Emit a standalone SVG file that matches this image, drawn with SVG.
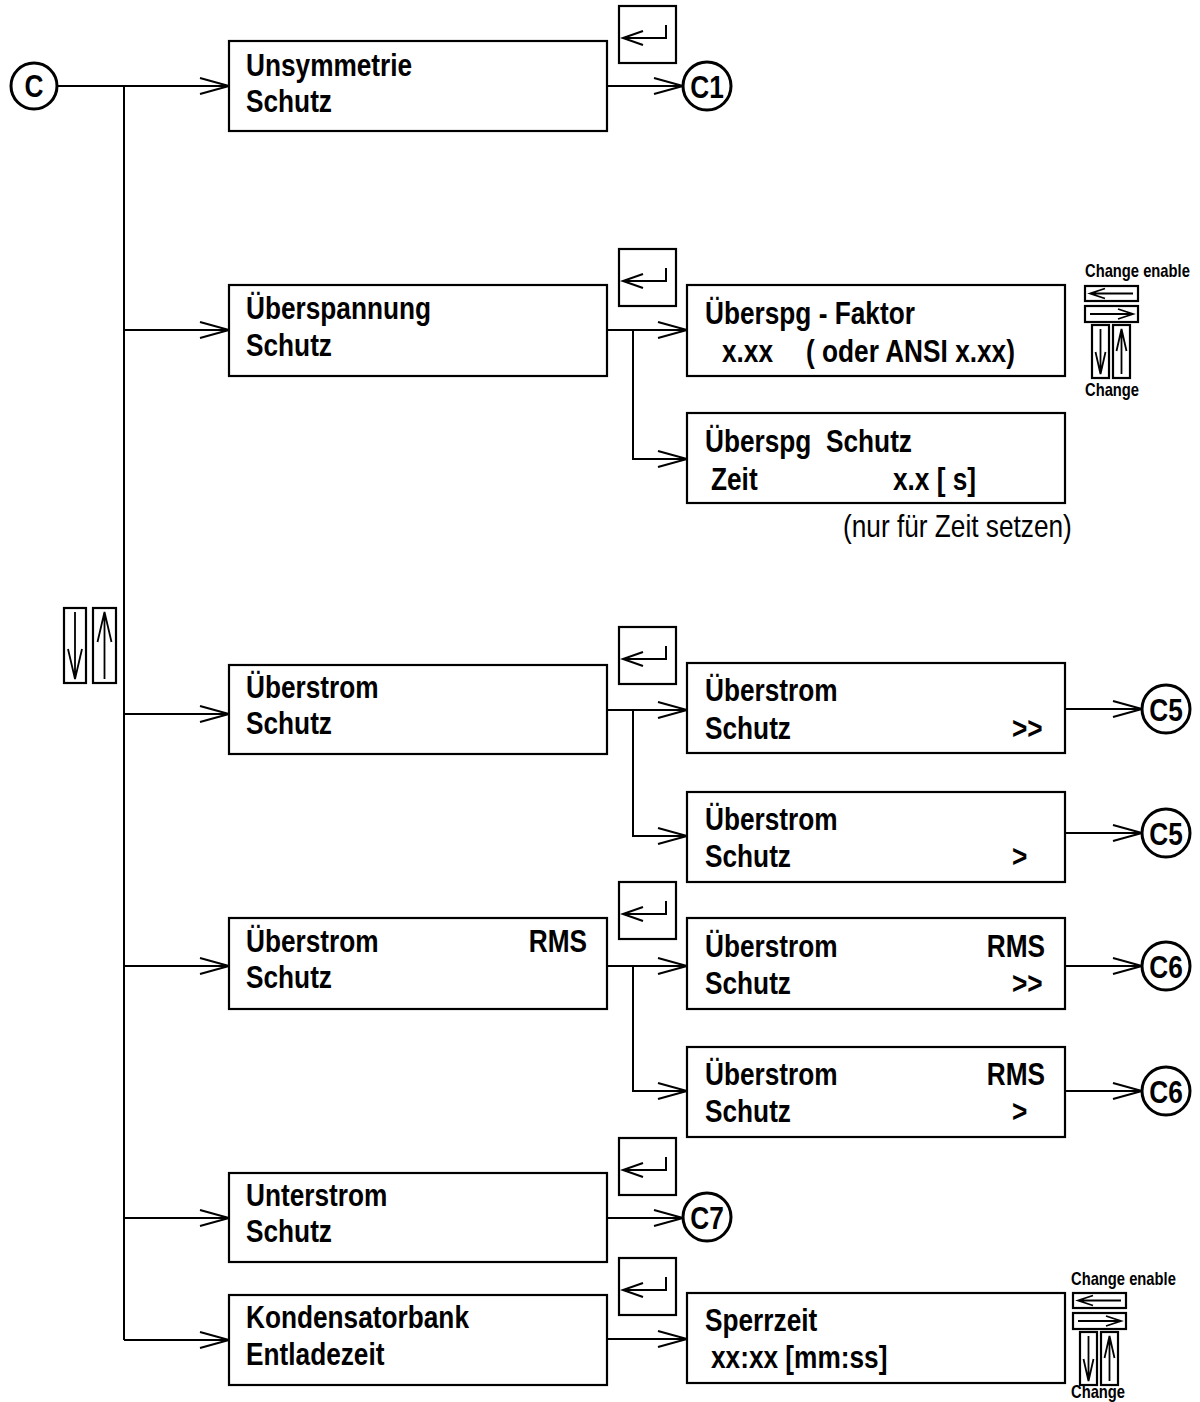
<svg xmlns="http://www.w3.org/2000/svg" xmlns:xlink="http://www.w3.org/1999/xlink" width="1200" height="1402" viewBox="0 0 1200 1402">
<style>
.box{fill:#fff;stroke:#000;stroke-width:2.2}
.ln{fill:none;stroke:#000;stroke-width:2}
.thin{fill:none;stroke:#000;stroke-width:1.8}
.circ{fill:#fff;stroke:#000;stroke-width:3}
.t{font-family:"Liberation Sans",Arial,sans-serif;font-weight:bold;font-size:32px;fill:#000}
.r{font-family:"Liberation Sans",Arial,sans-serif;font-weight:normal;font-size:32px;fill:#000}
.s{font-family:"Liberation Sans",Arial,sans-serif;font-weight:bold;font-size:18px;fill:#000}
.e{text-anchor:end}
.m{text-anchor:middle}
</style>
<defs>
<marker id="ah" markerUnits="userSpaceOnUse" markerWidth="32" markerHeight="18" refX="29" refY="8" orient="auto" overflow="visible">
<path d="M0,0 L29,8 L0,16" fill="none" stroke="#000" stroke-width="2"/>
</marker>
<g id="enter">
<rect x="0" y="0" width="57" height="57" class="box"/>
<path d="M47,19 V32 H4" class="ln"/>
<path d="M24,25 L4,32 L24,39" class="ln"/>
</g>
<g id="chg">
<rect x="0" y="0" width="53" height="15" class="box"/>
<path d="M5,7.5 H48 M20,2.5 L5,7.5 L20,12.5" class="thin"/>
<rect x="0" y="20" width="53" height="16" class="box"/>
<path d="M5,28 H48 M33,23 L48,28 L33,33" class="thin"/>
<rect x="7" y="39" width="17" height="53" class="box"/>
<path d="M15.5,43 V88 M10.5,66 L15.5,88 L20.5,66" class="thin"/>
<rect x="28" y="39" width="17" height="53" class="box"/>
<path d="M36.5,88 V43 M31.5,65 L36.5,43 L41.5,65" class="thin"/>
</g>
</defs>
<rect width="1200" height="1402" fill="#fff"/>

<g id="connectors">
<path d="M57,86 H229" class="ln" marker-end="url(#ah)"/>
<path d="M124,86 V1340" class="ln"/>
<path d="M124,330 H229" class="ln" marker-end="url(#ah)"/>
<path d="M124,714 H229" class="ln" marker-end="url(#ah)"/>
<path d="M124,966 H229" class="ln" marker-end="url(#ah)"/>
<path d="M124,1218 H229" class="ln" marker-end="url(#ah)"/>
<path d="M124,1340 H229" class="ln" marker-end="url(#ah)"/>
<path d="M607,86 H683" class="ln" marker-end="url(#ah)"/>
<path d="M607,330 H687" class="ln" marker-end="url(#ah)"/>
<path d="M633,330 V459 H687" class="ln" marker-end="url(#ah)"/>
<path d="M607,710 H687" class="ln" marker-end="url(#ah)"/>
<path d="M633,710 V836 H687" class="ln" marker-end="url(#ah)"/>
<path d="M607,966 H687" class="ln" marker-end="url(#ah)"/>
<path d="M633,966 V1091 H687" class="ln" marker-end="url(#ah)"/>
<path d="M607,1218 H683" class="ln" marker-end="url(#ah)"/>
<path d="M607,1339 H687" class="ln" marker-end="url(#ah)"/>
<path d="M1065,709 H1142" class="ln" marker-end="url(#ah)"/>
<path d="M1065,833 H1142" class="ln" marker-end="url(#ah)"/>
<path d="M1065,966 H1142" class="ln" marker-end="url(#ah)"/>
<path d="M1065,1091 H1142" class="ln" marker-end="url(#ah)"/>
</g>

<g id="node-C">
<circle cx="34" cy="86" r="23" class="circ"/>
<text class="t m" font-size="30" transform="translate(34 97) scale(0.82 1)">C</text>
</g>

<g id="node-unsymmetrie">
<rect x="229" y="41" width="378" height="90" class="box"/>
<text class="t" transform="translate(246 76) scale(0.82 1)">Unsymmetrie</text>
<text class="t" transform="translate(246 112) scale(0.82 1)">Schutz</text>
</g>
<g id="enter-1"><use xlink:href="#enter" x="619" y="6"/></g>
<g id="node-C1">
<circle cx="707" cy="86" r="24" class="circ"/>
<text class="t m" transform="translate(707 97.5) scale(0.82 1)">C1</text>
</g>

<g id="node-ueberspannung">
<rect x="229" y="285" width="378" height="91" class="box"/>
<text class="t" transform="translate(246 319) scale(0.82 1)">Überspannung</text>
<text class="t" transform="translate(246 356) scale(0.82 1)">Schutz</text>
</g>
<g id="enter-2"><use xlink:href="#enter" x="619" y="249"/></g>
<g id="node-faktor">
<rect x="687" y="285" width="378" height="91" class="box"/>
<text class="t" transform="translate(705 324) scale(0.82 1)">Überspg - Faktor</text>
<text class="t" transform="translate(722 362) scale(0.82 1)">x.xx</text>
<text class="t" transform="translate(806 362) scale(0.82 1)">( oder ANSI x.xx)</text>
</g>
<g id="change-icon-1">
<text class="s" transform="translate(1085 277) scale(0.82 1)">Change enable</text>
<use xlink:href="#chg" x="1085" y="286"/>
<text class="s" transform="translate(1085 396) scale(0.82 1)">Change</text>
</g>
<g id="node-zeit">
<rect x="687" y="413" width="378" height="90" class="box"/>
<text class="t" transform="translate(705 452) scale(0.82 1)">Überspg</text>
<text class="t" transform="translate(826 452) scale(0.82 1)">Schutz</text>
<text class="t" transform="translate(711 490) scale(0.82 1)">Zeit</text>
<text class="t" transform="translate(893 490) scale(0.82 1)">x.x [ s]</text>
</g>
<text class="r" transform="translate(843 537) scale(0.82 1)">(nur für Zeit setzen)</text>

<g id="updown-icon">
<rect x="64" y="608" width="22" height="75" class="box"/>
<path d="M75,612 V679 M68,649 L75,679 L82,649" class="thin"/>
<rect x="93" y="608" width="23" height="75" class="box"/>
<path d="M104.5,679 V612 M97.5,642 L104.5,612 L111.5,642" class="thin"/>
</g>

<g id="node-ueberstrom">
<rect x="229" y="665" width="378" height="89" class="box"/>
<text class="t" transform="translate(246 698) scale(0.82 1)">Überstrom</text>
<text class="t" transform="translate(246 734) scale(0.82 1)">Schutz</text>
</g>
<g id="enter-3"><use xlink:href="#enter" x="619" y="627"/></g>
<g id="node-ueberstrom-gg">
<rect x="687" y="663" width="378" height="90" class="box"/>
<text class="t" transform="translate(705 701) scale(0.82 1)">Überstrom</text>
<text class="t" transform="translate(705 739) scale(0.82 1)">Schutz</text>
<text class="t" transform="translate(1012 739) scale(0.82 1)">&gt;&gt;</text>
</g>
<g id="node-C5a">
<circle cx="1166" cy="709" r="24" class="circ"/>
<text class="t m" transform="translate(1166 720.5) scale(0.82 1)">C5</text>
</g>
<g id="node-ueberstrom-g">
<rect x="687" y="792" width="378" height="90" class="box"/>
<text class="t" transform="translate(705 830) scale(0.82 1)">Überstrom</text>
<text class="t" transform="translate(705 867) scale(0.82 1)">Schutz</text>
<text class="t" transform="translate(1012 867) scale(0.82 1)">&gt;</text>
</g>
<g id="node-C5b">
<circle cx="1166" cy="833" r="24" class="circ"/>
<text class="t m" transform="translate(1166 844.5) scale(0.82 1)">C5</text>
</g>

<g id="node-rms">
<rect x="229" y="918" width="378" height="91" class="box"/>
<text class="t" transform="translate(246 952) scale(0.82 1)">Überstrom</text>
<text class="t e" transform="translate(587 952) scale(0.82 1)">RMS</text>
<text class="t" transform="translate(246 988) scale(0.82 1)">Schutz</text>
</g>
<g id="enter-4"><use xlink:href="#enter" x="619" y="882"/></g>
<g id="node-rms-gg">
<rect x="687" y="918" width="378" height="91" class="box"/>
<text class="t" transform="translate(705 957) scale(0.82 1)">Überstrom</text>
<text class="t e" transform="translate(1045 957) scale(0.82 1)">RMS</text>
<text class="t" transform="translate(705 994) scale(0.82 1)">Schutz</text>
<text class="t" transform="translate(1012 994) scale(0.82 1)">&gt;&gt;</text>
</g>
<g id="node-C6a">
<circle cx="1166" cy="966" r="24" class="circ"/>
<text class="t m" transform="translate(1166 977.5) scale(0.82 1)">C6</text>
</g>
<g id="node-rms-g">
<rect x="687" y="1047" width="378" height="90" class="box"/>
<text class="t" transform="translate(705 1085) scale(0.82 1)">Überstrom</text>
<text class="t e" transform="translate(1045 1085) scale(0.82 1)">RMS</text>
<text class="t" transform="translate(705 1122) scale(0.82 1)">Schutz</text>
<text class="t" transform="translate(1012 1122) scale(0.82 1)">&gt;</text>
</g>
<g id="node-C6b">
<circle cx="1166" cy="1091" r="24" class="circ"/>
<text class="t m" transform="translate(1166 1102.5) scale(0.82 1)">C6</text>
</g>

<g id="node-unterstrom">
<rect x="229" y="1173" width="378" height="89" class="box"/>
<text class="t" transform="translate(246 1206) scale(0.82 1)">Unterstrom</text>
<text class="t" transform="translate(246 1242) scale(0.82 1)">Schutz</text>
</g>
<g id="enter-5"><use xlink:href="#enter" x="619" y="1138"/></g>
<g id="node-C7">
<circle cx="707" cy="1217" r="24" class="circ"/>
<text class="t m" transform="translate(707 1228.5) scale(0.82 1)">C7</text>
</g>

<g id="node-kondensator">
<rect x="229" y="1295" width="378" height="90" class="box"/>
<text class="t" transform="translate(246 1328) scale(0.82 1)">Kondensatorbank</text>
<text class="t" transform="translate(246 1365) scale(0.82 1)">Entladezeit</text>
</g>
<g id="enter-6"><use xlink:href="#enter" x="619" y="1258"/></g>
<g id="node-sperrzeit">
<rect x="687" y="1293" width="378" height="90" class="box"/>
<text class="t" transform="translate(705 1331) scale(0.82 1)">Sperrzeit</text>
<text class="t" transform="translate(711 1368) scale(0.82 1)">xx:xx [mm:ss]</text>
</g>
<g id="change-icon-2">
<text class="s" transform="translate(1071 1285) scale(0.82 1)">Change enable</text>
<use xlink:href="#chg" x="1073" y="1293"/>
<text class="s" transform="translate(1071 1398) scale(0.82 1)">Change</text>
</g>
</svg>
